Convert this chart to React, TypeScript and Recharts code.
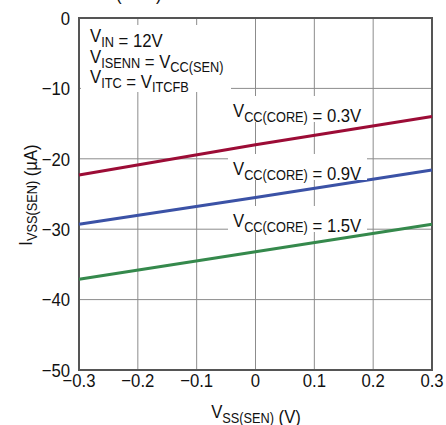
import { LineChart, Line, XAxis, YAxis, CartesianGrid, ReferenceArea } from 'recharts';

// readings: V_SS(SEN) in volts vs I_VSS(SEN) in µA
const vss = [-0.3, 0, 0.3];
const core03 = [-22.3, -18.0, -14.0];
const core09 = [-29.3, -25.5, -21.6];
const core15 = [-37.1, -33.2, -29.3];

const xTicks = [-0.3, -0.2, -0.1, 0, 0.1, 0.2, 0.3];
const yTicks = [0, -10, -20, -30, -40, -50];

const seriesNames = ['0.3V', '0.9V', '1.5V'];
const seriesColors = ['#9c0c36', '#3b52a6', '#35894c'];

const FONT = '"Liberation Sans", Arial, sans-serif';
// Arial squeezed sideways to look like the condensed face of the original
const SQ = 0.88;

const data = vss.map((v, i) => ({
  x: v,
  s0: core03[i],
  s1: core09[i],
  s2: core15[i],
}));

const fmt = (v: number) => (v < 0 ? '\u2212' + String(Math.abs(v)) : String(v));

function Sub({ main, sub }: { main: string; sub: string }) {
  return (
    <>
      <tspan>{main}</tspan>
      <tspan fontSize={14.5} dy={4.5}>{sub}</tspan>
      <tspan dy={-4.5}></tspan>
    </>
  );
}

function Squeezed({ x, y, rotate = 0, anchor = 'start', children }: any) {
  return (
    <text
      transform={`translate(${x},${y}) rotate(${rotate}) scale(${SQ},1)`}
      fontSize={19}
      textAnchor={anchor}
    >
      {children}
    </text>
  );
}

const XTick = ({ x, y, payload }: any) => (
  <text
    transform={`translate(${x},${y}) scale(${SQ},1)`}
    dy="0.71em"
    textAnchor="middle"
    fontSize={19}
    fontFamily={FONT}
    fill="#111"
  >
    {fmt(payload.value)}
  </text>
);

const YTick = ({ x, y, payload }: any) => (
  <text
    transform={`translate(${x},${y}) scale(${SQ},1)`}
    dy="0.36em"
    textAnchor="end"
    fontSize={19}
    fontFamily={FONT}
    fill="#111"
  >
    {fmt(payload.value)}
  </text>
);

export default function App() {
  return (
    <div style={{ position: 'absolute', left: 0, top: 0, width: 446, height: 425, background: '#fff' }}>
      <LineChart width={446} height={425} data={data} margin={{ top: 18, right: 14, left: 0, bottom: 0 }}>
        <CartesianGrid stroke="#8c8c8c" strokeWidth={1} />
        <XAxis
          dataKey="x"
          type="number"
          domain={[-0.3, 0.3]}
          ticks={xTicks}
          height={55}
          tickSize={0}
          tickMargin={3}
          axisLine={false}
          tick={<XTick />}
        />
        <YAxis
          type="number"
          domain={[-50, 0]}
          ticks={yTicks}
          width={79}
          tickSize={0}
          tickMargin={9}
          axisLine={false}
          tick={<YTick />}
        />
        {['s0', 's1', 's2'].map((k, i) => (
          <Line
            key={k}
            dataKey={k}
            name={seriesNames[i]}
            stroke={seriesColors[i]}
            strokeWidth={3}
            dot={false}
            isAnimationActive={false}
          />
        ))}
        <ReferenceArea x1={-0.3} x2={0.3} y1={-50} y2={0} fill="none" stroke="#555" strokeWidth={2} />
      </LineChart>

      <svg
        width={446}
        height={425}
        style={{ position: 'absolute', left: 0, top: 0, pointerEvents: 'none' }}
        fontFamily={FONT}
        fill="#111"
      >
        {/* clipped remnant of the title above */}
        <Squeezed x={116} y={0}>(SEN)</Squeezed>

        {/* conditions box */}
        <rect x={81} y={25} width={150} height={67} fill="#fff" />
        <Squeezed x={90} y={42}>
          <Sub main="V" sub="IN" /> = 12V
        </Squeezed>
        <Squeezed x={90} y={63}>
          <Sub main="V" sub="ISENN" /> = <Sub main="V" sub="CC(SEN)" />
        </Squeezed>
        <Squeezed x={90} y={83}>
          <Sub main="V" sub="ITC" /> = <Sub main="V" sub="ITCFB" />
        </Squeezed>

        {/* series labels; boxes stop short of the lines below them */}
        {[117, 175, 227].map((y, i) => (
          <g key={i}>
            <rect x={228} y={y - 21} width={139} height={26} fill="#fff" />
            <Squeezed x={233} y={y}>
              <Sub main="V" sub="CC(CORE)" /> = {seriesNames[i]}
            </Squeezed>
          </g>
        ))}

        {/* axis titles */}
        <Squeezed x={256} y={418} anchor="middle">
          <Sub main="V" sub="SS(SEN)" /> (V)
        </Squeezed>
        <Squeezed x={32} y={195} rotate={-90} anchor="middle">
          <Sub main="I" sub="VSS(SEN)" /> (µA)
        </Squeezed>
      </svg>
    </div>
  );
}
